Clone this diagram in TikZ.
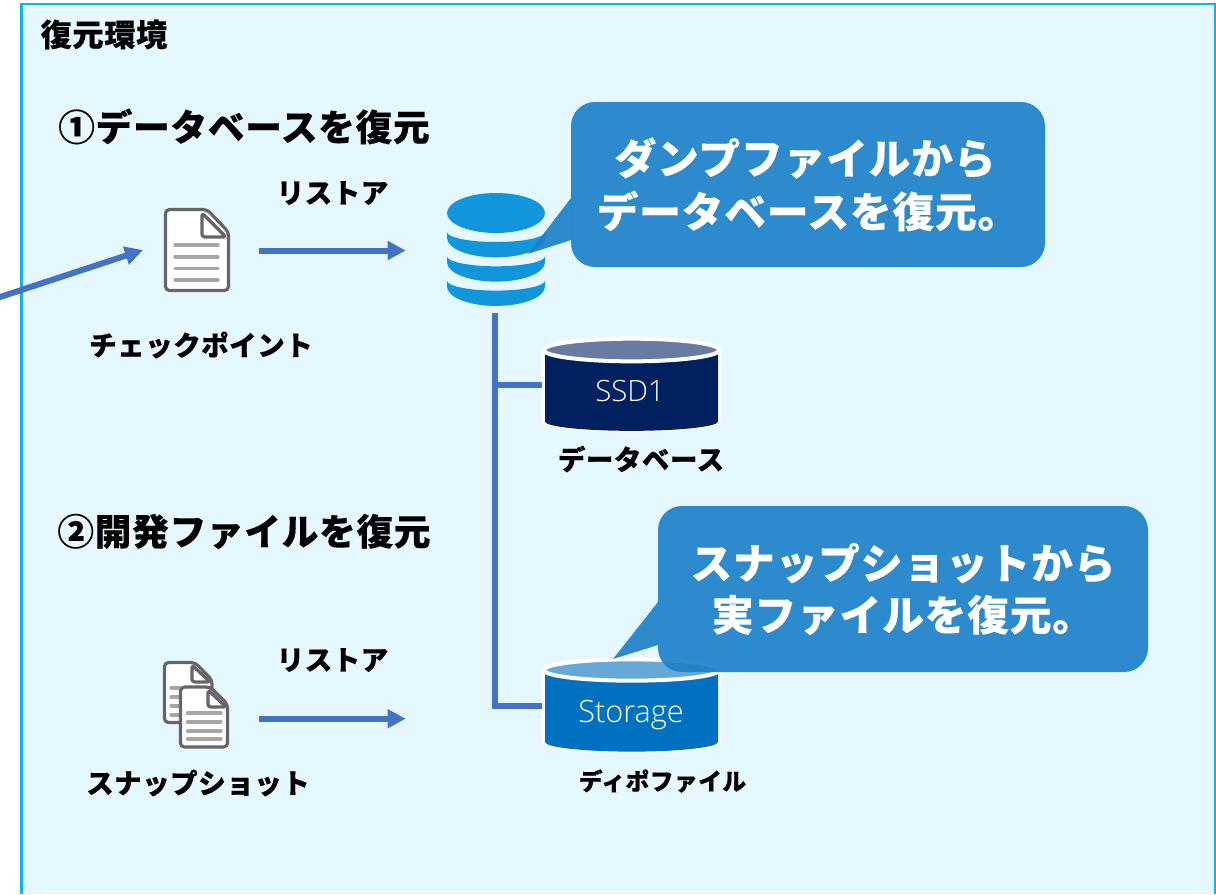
\documentclass[tikz,border=0pt]{standalone}
\usepackage{fontspec}
\newfontfamily\jp{Noto Sans CJK JP Black}[LetterSpace=2,FakeBold=0.25]
\newfontfamily\lat{Open Sans Light}
\newcommand{\jpsz}[1]{\jp\fontsize{#1}{#1}\selectfont}
\usetikzlibrary{arrows.meta}
\definecolor{bgblue}{HTML}{E5F7FF}
\definecolor{framec}{HTML}{0FB1F0}
\definecolor{linkc}{HTML}{4472C4}
\definecolor{dbc}{HTML}{1296DB}
\definecolor{callc}{HTML}{1A7FC8}
\tikzset{
  x=0.75pt,y=-0.75pt,
  lab/.style={inner sep=0pt,text=black,font=\jpsz{20.6pt}},
  head/.style={inner sep=0pt,text=black,font=\jpsz{27.5pt}},
  calltxt/.style={inner sep=0pt,text=white,font=\jpsz{31.3pt}},
  cyltxt/.style={inner sep=0pt,text=white,anchor=base,font=\lat\fontsize{#1}{#1}\selectfont},
  link/.style={draw=linkc,line width=4.5pt},
  flow/.style={draw=linkc,line width=4.5pt,-{Triangle[length=13.5pt,width=13.5pt]}},
  docout/.style={draw=black!60,line width=2.4pt,fill=white,rounded corners=3pt,line join=round},
  docfold/.style={draw=black!60,line width=2.4pt,fill=white,rounded corners=2pt,line join=round},
  docline/.style={draw=black!35,line width=2.5pt,line cap=round},
  callout/.style={fill=callc,fill opacity=0.9},
}
\begin{document}
\begin{tikzpicture}
\useasboundingbox (0,0) rectangle (1216,894);
% frame
\fill[framec] (20,2.5) rectangle (1216,894);
\fill[bgblue] (22.5,5) rectangle (1214,894);

\node[inner sep=0pt,anchor=center,text=black,font=\jpsz{23.4pt}] (t0) at (104,34.5) {復元環境};
\node[head] (t1) at (244,126.5) {①データベースを復元};
\node[head] (t2) at (244,531.5) {②開発ファイルを復元};
\node[lab] (r1) at (332.5,193) {リストア};
\node[lab] (r2) at (332.5,660) {リストア};
\node[lab] (l1) at (201,345) {チェックポイント};
\node[lab] (l2) at (641,459) {データベース};
\node[lab] (l3) at (198,783) {スナップショット};
\node[inner sep=0pt,text=black,font=\jpsz{17.8pt}] (l4) at (662.5,781) {ディポファイル};

% document icon 1
\draw[docout] (165.5,209.5) -- (207,209.5) -- (228.5,232) -- (228.5,290.5) -- (165.5,290.5) -- cycle;
\draw[docfold] (202,213) -- (202,237) -- (226,237) -- cycle;
\foreach \yy in {245,257,268.5,280} \draw[docline] (175,\yy) -- (218,\yy);
\node[inner sep=0pt,minimum width=49.5pt,minimum height=63pt] (doc1) at (197,250.5) {};

% document icons 2
\draw[docout] (164.5,662.5) -- (195,662.5) -- (212,680) -- (212,722.5) -- (164.5,722.5) -- cycle;
\draw[docfold] (192,665) -- (192,682) -- (210,682) -- cycle;
\foreach \yy in {688,697,706,715} \draw[docline] (171,\yy) -- (180,\yy);
\draw[docout] (180.5,687) -- (210,687) -- (227.5,704) -- (227.5,747) -- (180.5,747) -- cycle;
\draw[docfold] (208,690) -- (208,707) -- (226,707) -- cycle;
\foreach \yy in {713,722,731,739} \draw[docline] (187.5,\yy) -- (221,\yy);
\node[inner sep=0pt,minimum width=49.5pt,minimum height=46.5pt] (doc2) at (196,718.7) {};

% database icon
\fill[dbc] (496,213) ellipse[x radius=36.75pt,y radius=15pt];
\foreach \dy in {0,24.3,48.6}{
  \fill[dbc] (447,232+\dy) -- (447,238+\dy)
     arc[start angle=180,end angle=360,x radius=36.75pt,y radius=14.5pt]
     -- (545,232+\dy)
     arc[start angle=360,end angle=180,x radius=36.75pt,y radius=7.5pt] -- cycle;
}
\node[inner sep=0pt,minimum width=73.5pt,minimum height=85.5pt] (db) at (496,250.5) {};

% SSD1
\draw[white,line width=3pt,fill=white] (543.5,350) -- (543.5,421) arc[start angle=180,end angle=360,x radius=65.8pt,y radius=7.2pt] -- (719.5,350)
   arc[start angle=0,end angle=180,x radius=65.8pt,y radius=8.5pt] -- cycle;
\fill[fill={rgb,255:red,0;green,32;blue,96}] (545,350) -- (545,421.5) arc[start angle=180,end angle=360,x radius=64.875pt,y radius=7pt] -- (718,350) -- cycle;
\draw[white,line width=3pt,fill={rgb,255:red,106;green,123;blue,162}] (631.5,350) ellipse[x radius=65.8pt,y radius=8.5pt];
\node[cyltxt=22pt] (ssd) at (630,401.7) {SSD1};

% Storage
\draw[white,line width=3pt,fill=white] (543.5,670) -- (543.5,742) arc[start angle=180,end angle=360,x radius=65.8pt,y radius=7.5pt] -- (719.5,670)
   arc[start angle=0,end angle=180,x radius=65.8pt,y radius=8pt] -- cycle;
\fill[fill={rgb,255:red,0;green,112;blue,192}] (545,670) -- (545,742) arc[start angle=180,end angle=360,x radius=64.875pt,y radius=7.2pt] -- (718,670) -- cycle;
\draw[white,line width=3pt,fill={rgb,255:red,102;green,169;blue,217}] (631.5,670) ellipse[x radius=65.8pt,y radius=8pt];
\node[cyltxt=23pt] (sto) at (631,722) {Storage};
\coordinate (ssdw) at (542,385);
\coordinate (stow) at (542,706);

% connectors
\coordinate (free) at (-3,298);
\draw[flow,shorten <=0pt] (free) -- (143,250);
\draw[flow,shorten <=29pt*0.75,shorten >=41pt*0.75] (doc1.east) -- (db.west);
\draw[flow,shorten <=30pt*0.75,shorten >=41pt*0.75] (doc2.east) -- (doc2.east -| db.west);
\coordinate (dbs) at (495,313);
\coordinate (j1) at (495,385);
\coordinate (j2) at (495,706);
\draw[link] (dbs) -- (j2) -- (stow);
\draw[link] (j1) -- (ssdw);

% callouts
\path[callout,rounded corners=18pt] (571,102) rectangle (1045,267);
\path[callout] (571,198) -- (528,254) -- (571,240) -- cycle;
\path[callout,rounded corners=18pt] (658,506) rectangle (1148,672);
\path[callout] (658,602) -- (613,659) -- (658,645) -- cycle;
\node[calltxt] (c1a) at (805,158) {ダンプファイルから};
\node[calltxt] (c1b) at (808,211) {データベースを復元。};
\node[calltxt] (c2a) at (903,563) {スナップショットから};
\node[calltxt] (c2b) at (903,615) {実ファイルを復元。};
\end{tikzpicture}
\end{document}
